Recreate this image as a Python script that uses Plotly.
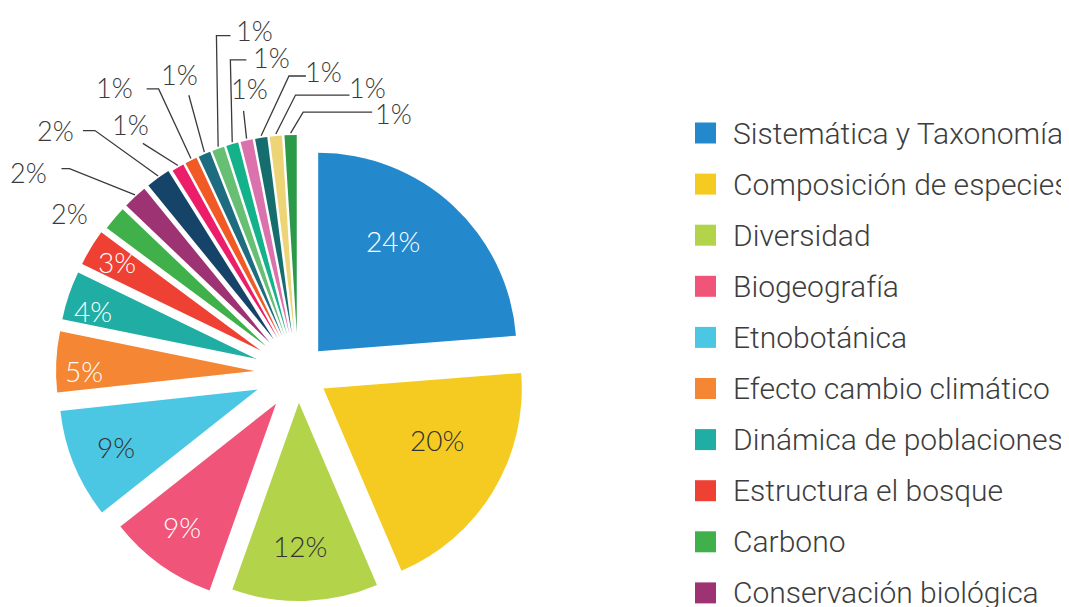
import math
import plotly.graph_objects as go

# ---------------- data ----------------
labels = ["Sistemática y Taxonomía", "Composición de especies", "Diversidad", "Biogeografía",
          "Etnobotánica", "Efecto cambio climático", "Dinámica de poblaciones",
          "Estructura el bosque", "Carbono", "Conservación biológica",
          "Tema 11", "Tema 12", "Tema 13", "Tema 14", "Tema 15", "Tema 16",
          "Tema 17", "Tema 18", "Tema 19", "Tema 20"]
values = [24, 20, 12, 9, 9, 5, 4, 3, 2, 2, 2, 1, 1, 1, 1, 1, 1, 1, 1, 1]
legend_count = 10  # categories visible in the legend

# ---------------- style ----------------
colors = ["#2389CC", "#F5CB22", "#B3D34A", "#F05478", "#4CC7E3", "#F48634", "#1FADA4",
          "#EE4033", "#3FB04A", "#9E3373", "#164368", "#EC1E6A", "#F15A24", "#1E6C80",
          "#66BF72", "#14B28A", "#DC72AD", "#156E6D", "#EDD577", "#2A9A48"]
pulls = [0.15, 0.15, 0.15, 0.19, 0.22, 0.22, 0.22, 0.22, 0.21, 0.21, 0.21,
         0.2, 0.2, 0.2, 0.2, 0.2, 0.2, 0.2, 0.2, 0.2]
# inside labels: (distance from pie centre in radii, angular offset in degrees cw, font colour)
inside_style = {0: (0.82, -6.9, "#ffffff"), 1: (0.78, -5.5, "#333333"), 2: (0.87, 1.1, "#333333"),
                3: (0.97, 1.4, "#ffffff"), 4: (0.99, 0, "#333333"), 5: (1.08, -2.2, "#ffffff"),
                6: (1.08, -2.0, "#ffffff"), 7: (1.07, 0.5, "#ffffff")}
# outside labels: label offset from slice edge, leader points (offsets from slice edge)
outside_style = {
    8: ((-34, 4), []),
    9: ((-97, -14), [(-56, -18), (-64, -18)]),
    10: ((-94, -36), [(-55, -36), (-67, -36)]),
    11: ((-40, -31), [(-28, -12)]),
    12: ((-70, -60), [(-26, -59), (-38, -59)]),
    13: ((-19, -67), [(-10, -46)]),
    14: ((41, -105), [(3, -100), (17, -100)]),
    15: ((43, -73), [(2, -71), (18, -71)]),
    16: ((6, -38), [(0, -16)]),
    17: ((65, -53), [(30, -48), (47, -48)]),
    18: ((93, -35), [(21, -27), (75, -27)]),
    19: ((103, -8), [(13, -9), (82, -9)]),
}
OUT_EXTRA = 14       # radial push of outside labels beyond the slice edge (px)
W, H = 1069, 607
OFF = 8              # page offset of the figure inside the browser window (px)
CX, CY, HALF = 290, 365, 242   # pie box centre and half size in figure pixels
dom_x = [(CX - HALF) / W, (CX + HALF) / W]
dom_y = [1 - (CY + HALF) / H, 1 - (CY - HALF) / H]
INSIDE_FONT = dict(family="Lato", size=28, weight=300)
OUTSIDE_FONT = dict(family="Lato", size=27, weight=300, color="#3a3a3a")
LEGEND_FONT = dict(family="Roboto", size=30, weight=300, color="#3d3d3d")

fig = go.Figure()
fig.add_trace(go.Pie(
    labels=labels, values=values, sort=False, direction="clockwise", rotation=0,
    pull=pulls, marker=dict(colors=colors, line=dict(width=0)),
    textinfo="none", domain=dict(x=dom_x, y=dom_y),
    showlegend=False, hoverinfo="label+percent", automargin=False,
))

# pie geometry as computed by plotly (r = min(rx, ry) / (1 + max pull)), in screen pixels
rx = W * (dom_x[1] - dom_x[0]) / 2
ry = H * (dom_y[1] - dom_y[0]) / 2
r = min(rx, ry) / (1 + max(pulls))
cx = W * (dom_x[0] + dom_x[1]) / 2 + OFF
cy = H * (1 - (dom_y[0] + dom_y[1]) / 2) + OFF
total = sum(values)


def to_paper(px, py):
    return (px - OFF) / W, 1 - (py - OFF) / H


cum = 0
for i, v in enumerate(values):
    mid = 360 * (cum + v / 2) / total
    cum += v
    ux, uy = math.sin(math.radians(mid)), -math.cos(math.radians(mid))
    txt = f"{round(100 * v / total)}%"
    if i in inside_style:
        k, off, col = inside_style[i]
        a = math.radians(mid + off)
        x, y = to_paper(cx + k * r * math.sin(a), cy - k * r * math.cos(a))
        fig.add_annotation(xref="paper", yref="paper", x=x, y=y, text=txt, showarrow=False,
                           xanchor="center", yanchor="middle",
                           font=dict(INSIDE_FONT, color=col))
    elif i in outside_style:
        (ldx, ldy), pts = outside_style[i]
        ex = cx + (1 + pulls[i]) * r * ux  # outer edge of the pulled slice
        ey = cy + (1 + pulls[i]) * r * uy
        sx, sy = ex + OUT_EXTRA * ux, ey + OUT_EXTRA * uy
        x, y = to_paper(sx + ldx, sy + ldy)
        fig.add_annotation(xref="paper", yref="paper", x=x, y=y, text=txt, showarrow=False,
                           xanchor="center", yanchor="middle", font=OUTSIDE_FONT)
        if pts:
            path_pts = [(ex, ey - 2)] + [(sx + dx, sy + dy) for dx, dy in pts]
            d = "M " + " L ".join("{:.5f},{:.5f}".format(*to_paper(px, py)) for px, py in path_pts)
            fig.add_shape(type="path", xref="paper", yref="paper", path=d,
                          line=dict(color="#3a3a3a", width=1.3))

# manual legend (first categories; the rest falls below the visible page)
leg_top = 133
step = 51.1
for i in range(legend_count):
    yc = leg_top + i * step
    x0, y0 = to_paper(695, yc + 10.5)
    x1, y1 = to_paper(716, yc - 10.5)
    fig.add_shape(type="rect", xref="paper", yref="paper", x0=x0, x1=x1, y0=y0, y1=y1,
                  fillcolor=colors[i], line=dict(width=0))
    tx, ty = to_paper(731, yc)
    fig.add_annotation(xref="paper", yref="paper", x=tx, y=ty,
                       xanchor="left", yanchor="middle", showarrow=False,
                       text=labels[i], font=LEGEND_FONT)

fig.update_layout(width=W, height=H, margin=dict(l=0, r=0, t=0, b=0, autoexpand=False),
                  paper_bgcolor="white", plot_bgcolor="white")
fig.write_html("out.html")
